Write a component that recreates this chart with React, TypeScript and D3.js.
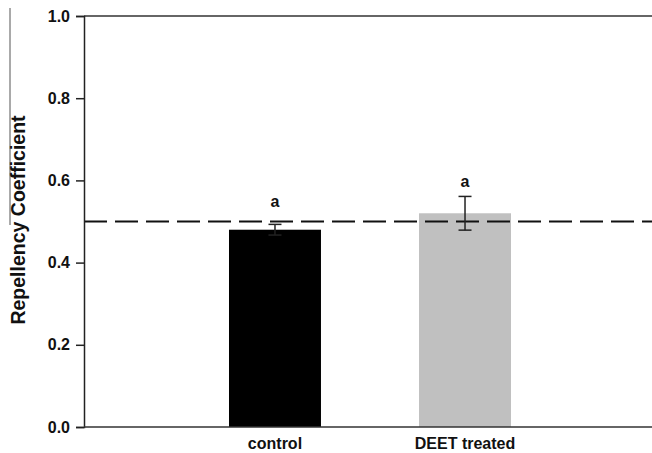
import React, { useEffect, useRef } from 'react';
import * as d3 from 'd3';

// chart data
const categories = ['control', 'DEET treated'];
const means = [0.48, 0.52];
const errors = [0.013, 0.041];
const letters = ['a', 'a'];
const letterLevels = [0.535, 0.584];
const yTicks = [0, 0.2, 0.4, 0.6, 0.8, 1.0];
const referenceLevel = 0.5;
const barColors = ['#000000', '#c0c0c0'];

const width = 652;
const height = 453;
const margin = { top: 16, right: -4, bottom: 26, left: 84 };

const App = () => {
  const svgRef = useRef<SVGSVGElement>(null);

  useEffect(() => {
    const svg = d3.select(svgRef.current);
    svg.selectAll('*').remove();

    const x = d3.scaleBand()
      .domain(categories)
      .range([margin.left, width - margin.right])
      .paddingInner(0.516)
      .paddingOuter(0.763);

    const y = d3.scaleLinear()
      .domain([0, 1])
      .range([height - margin.bottom, margin.top]);

    const font = 'Arial, "Liberation Sans", sans-serif';

    // stray scan line on the left
    svg.append('line')
      .attr('x1', 10).attr('x2', 10)
      .attr('y1', 8).attr('y2', 225)
      .attr('stroke', '#555')
      .attr('stroke-width', 1);

    // bars
    svg.selectAll('rect.bar')
      .data(categories)
      .enter()
      .append('rect')
      .attr('class', 'bar')
      .attr('x', d => x(d)!)
      .attr('y', (d, i) => y(means[i]))
      .attr('width', x.bandwidth())
      .attr('height', (d, i) => y(0) - y(means[i]))
      .attr('fill', (d, i) => barColors[i]);

    // reference line
    svg.append('line')
      .attr('x1', margin.left)
      .attr('x2', width)
      .attr('y1', y(referenceLevel))
      .attr('y2', y(referenceLevel))
      .attr('stroke', '#111')
      .attr('stroke-width', 2)
      .attr('stroke-dasharray', '23 8');

    // error bars
    const cap = 6.5;
    const eb = svg.selectAll('g.err')
      .data(categories)
      .enter()
      .append('g')
      .attr('class', 'err')
      .attr('stroke', '#222')
      .attr('stroke-width', 1.5);
    eb.append('line')
      .attr('x1', d => x(d)! + x.bandwidth() / 2)
      .attr('x2', d => x(d)! + x.bandwidth() / 2)
      .attr('y1', (d, i) => y(means[i] - errors[i]))
      .attr('y2', (d, i) => y(means[i] + errors[i]));
    [1, -1].forEach(sign => {
      eb.append('line')
        .attr('x1', d => x(d)! + x.bandwidth() / 2 - cap)
        .attr('x2', d => x(d)! + x.bandwidth() / 2 + cap)
        .attr('y1', (d, i) => y(means[i] + sign * errors[i]))
        .attr('y2', (d, i) => y(means[i] + sign * errors[i]));
    });

    // significance letters
    svg.selectAll('text.letter')
      .data(categories)
      .enter()
      .append('text')
      .attr('class', 'letter')
      .attr('x', d => x(d)! + x.bandwidth() / 2)
      .attr('y', (d, i) => y(letterLevels[i]))
      .attr('text-anchor', 'middle')
      .attr('font-family', font)
      .attr('font-weight', 'bold')
      .attr('font-size', 16)
      .attr('fill', '#111')
      .text((d, i) => letters[i]);

    // top frame line
    svg.append('line')
      .attr('x1', margin.left).attr('x2', width)
      .attr('y1', y(1)).attr('y2', y(1))
      .attr('stroke', '#333').attr('stroke-width', 1.5);

    // y axis
    const yAxis = d3.axisLeft(y)
      .tickValues(yTicks)
      .tickFormat(d3.format('.1f'))
      .tickSize(8)
      .tickPadding(6);
    const gy = svg.append('g')
      .attr('transform', `translate(${margin.left},0)`)
      .call(yAxis);
    gy.select('.domain').attr('stroke', '#222').attr('stroke-width', 1.5);
    gy.selectAll('.tick line').attr('stroke', '#222').attr('stroke-width', 1.5);
    gy.selectAll('text')
      .attr('font-family', font)
      .attr('font-weight', 'bold')
      .attr('font-size', 16)
      .attr('fill', '#111');

    // x axis
    const xAxis = d3.axisBottom(x).tickSize(0).tickPadding(11);
    const gx = svg.append('g')
      .attr('transform', `translate(0,${y(0)})`)
      .call(xAxis);
    gx.select('.domain').remove();
    gx.selectAll('text')
      .attr('font-family', font)
      .attr('font-weight', 'bold')
      .attr('font-size', 16)
      .attr('fill', '#111');
    svg.append('line')
      .attr('x1', margin.left).attr('x2', width)
      .attr('y1', y(0)).attr('y2', y(0))
      .attr('stroke', '#333').attr('stroke-width', 1.5);

    // y title
    svg.append('text')
      .attr('transform', `translate(25,220) rotate(-90)`)
      .attr('text-anchor', 'middle')
      .attr('font-family', font)
      .attr('font-weight', 'bold')
      .attr('font-size', 19.5)
      .attr('fill', '#111')
      .text('Repellency Coefficient');
  }, []);

  return (
    <svg
      ref={svgRef}
      width={width}
      height={height}
      style={{ position: 'absolute', left: 0, top: 0, background: '#fff' }}
    />
  );
};

export default App;
